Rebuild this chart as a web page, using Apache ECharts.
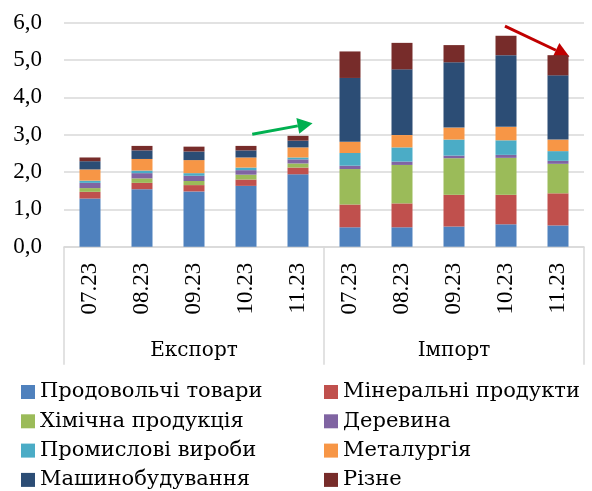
<!DOCTYPE html>
<html>
<head>
<meta charset="utf-8">
<script src="https://cdn.jsdelivr.net/npm/echarts@6/dist/echarts.min.js"></script>
<style>
  html, body { margin: 0; padding: 0; background: #fff; }
  #chart { width: 592px; height: 491px; }
</style>
</head>
<body>
<div id="chart"></div>
<script>
// місяці (експорт 5 + імпорт 5)
var months = ['07.23', '08.23', '09.23', '10.23', '11.23', '07.23', '08.23', '09.23', '10.23', '11.23']
var groups = ['Експорт', 'Імпорт']

var food      = [1.29, 1.54, 1.48, 1.63, 1.94, 0.52, 0.52, 0.54, 0.60, 0.57]
var mineral   = [0.18, 0.17, 0.17, 0.17, 0.18, 0.61, 0.64, 0.85, 0.79, 0.86]
var chemical  = [0.10, 0.12, 0.11, 0.13, 0.11, 0.95, 1.03, 0.98, 0.99, 0.79]
var wood      = [0.14, 0.14, 0.14, 0.12, 0.11, 0.09, 0.09, 0.07, 0.08, 0.08]
var industry  = [0.06, 0.07, 0.07, 0.07, 0.05, 0.34, 0.38, 0.43, 0.39, 0.26]
var metal     = [0.30, 0.31, 0.35, 0.27, 0.27, 0.30, 0.33, 0.32, 0.36, 0.31]
var machinery = [0.22, 0.23, 0.23, 0.19, 0.18, 1.71, 1.76, 1.75, 1.92, 1.72]
var other     = [0.10, 0.12, 0.13, 0.12, 0.13, 0.71, 0.71, 0.46, 0.52, 0.54]

var seriesNames = ['Продовольчі товари', 'Мінеральні продукти', 'Хімічна продукція', 'Деревина',
  'Промислові вироби', 'Металургія', 'Машинобудування', 'Різне']
var seriesValues = [food, mineral, chemical, wood, industry, metal, machinery, other]
var colors = ['#4F81BD', '#C0504D', '#9BBB59', '#8064A2', '#4BACC6', '#F79646', '#2C4D75', '#772C2A']

// стрілки: [індекс категорії, значення] початок і кінець
var arrowGreen = [[3.12, 3.01], [4.28, 3.31]]
var arrowRed = [[7.98, 5.91], [9.22, 5.09]]

var font = 'Liberation Serif'
var textFont = 'DejaVu Serif'
var gridColor = '#d9d9d9'

let myChart = echarts.init(document.getElementById('chart'))

var series = []
for (var i = 0; i < seriesNames.length; i++) {
  series.push({
    name: seriesNames[i],
    type: 'bar',
    stack: 'total',
    xAxisIndex: 0,
    barWidth: 21,
    itemStyle: { color: colors[i] },
    data: seriesValues[i]
  })
}

var legendText = { fontFamily: textFont, fontSize: 21, color: '#000', lineHeight: 24 }

myChart.setOption({
  animation: false,
  textStyle: { fontFamily: font },
  grid: { left: 64, right: 8, top: 22.7, bottom: 244.3, containLabel: false },
  legend: [
    {
      data: [seriesNames[0], seriesNames[2], seriesNames[4], seriesNames[6]],
      orient: 'vertical', left: 21, top: 380, height: 130, padding: 0,
      icon: 'rect', itemWidth: 14, itemHeight: 14, itemGap: 5.3,
      textStyle: legendText
    },
    {
      data: [seriesNames[1], seriesNames[3], seriesNames[5], seriesNames[7]],
      orient: 'vertical', left: 324, top: 380, height: 130, padding: 0,
      icon: 'rect', itemWidth: 14, itemHeight: 14, itemGap: 5.3,
      textStyle: legendText
    }
  ],
  xAxis: [
    {
      type: 'category',
      data: months,
      axisLine: { lineStyle: { color: gridColor, width: 1.5 } },
      axisTick: { show: false },
      axisLabel: { rotate: 90, margin: 16, fontSize: 23, color: '#000', fontFamily: font, interval: 0 }
    },
    {
      type: 'category',
      data: groups,
      position: 'bottom',
      axisLine: { show: false },
      axisTick: { show: true, length: 118, lineStyle: { color: gridColor, width: 1.5 } },
      axisLabel: { margin: 94, fontSize: 20, color: '#000', fontFamily: textFont }
    }
  ],
  yAxis: {
    type: 'value',
    min: 0,
    max: 6,
    interval: 1,
    axisLine: { show: false },
    axisTick: { show: false },
    splitLine: { lineStyle: { color: gridColor, width: 1.5 } },
    axisLabel: {
      margin: 22, fontSize: 23, color: '#000', fontFamily: font,
      formatter: function (v) { return v.toFixed(1).replace('.', ',') }
    }
  },
  series: series
})

// малюємо стрілки через координати осей
function toPx(p) {
  var i0 = Math.floor(p[0])
  var a = myChart.convertToPixel({ gridIndex: 0 }, [i0, p[1]])
  var b = myChart.convertToPixel({ gridIndex: 0 }, [i0 + 1, p[1]])
  return [a[0] + (b[0] - a[0]) * (p[0] - i0), a[1]]
}
function arrow(pts, color) {
  var s = toPx(pts[0])
  var e = toPx(pts[1])
  var dx = e[0] - s[0], dy = e[1] - s[1]
  var len = Math.sqrt(dx * dx + dy * dy)
  var ux = dx / len, uy = dy / len
  var head = 15, half = 8
  var bx = e[0] - ux * head, by = e[1] - uy * head
  return [
    {
      type: 'line',
      shape: { x1: s[0], y1: s[1], x2: bx, y2: by },
      style: { stroke: color, lineWidth: 3 }
    },
    {
      type: 'polygon',
      shape: { points: [[e[0], e[1]], [bx - uy * half, by + ux * half], [bx + uy * half, by - ux * half]] },
      style: { fill: color }
    }
  ]
}
myChart.setOption({
  graphic: arrow(arrowGreen, '#00B050').concat(arrow(arrowRed, '#C00000'))
})
</script>
</body>
</html>
